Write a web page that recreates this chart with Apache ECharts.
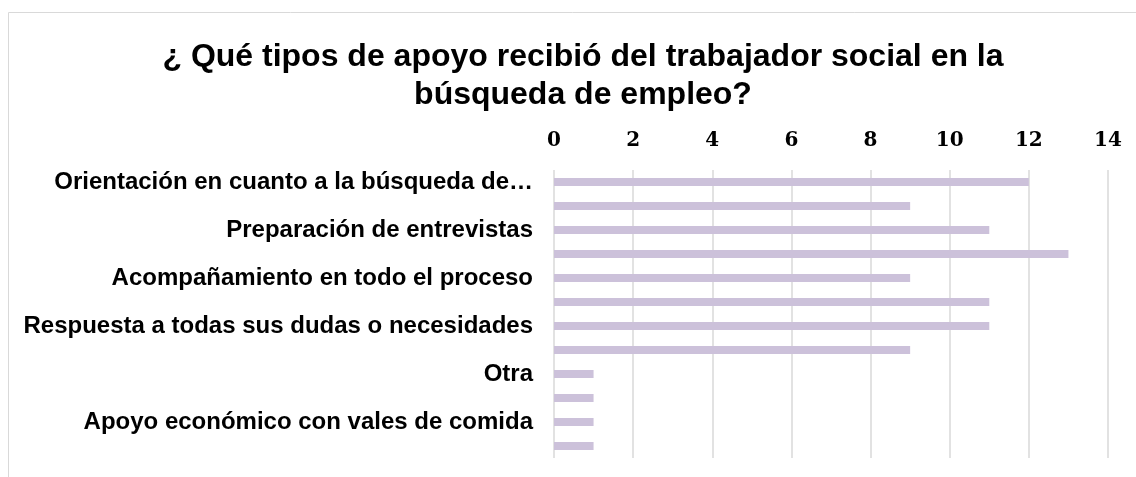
<!DOCTYPE html>
<html lang="es">
<head>
  <meta charset="UTF-8">
  <title>Apoyo del trabajador social</title>
  <script src="https://cdn.jsdelivr.net/npm/echarts@6/dist/echarts.min.js"></script>
  <style>
    html, body { margin: 0; padding: 0; background: #fff; }
  </style>
</head>
<body>
<div id="main" style="width: 1136px;height:477px;"></div>
<script type="text/javascript">
  // categorias (las vacias no tienen etiqueta visible en el original)
  var categories = [
    'Orientación en cuanto a la búsqueda de…', '',
    'Preparación de entrevistas', '',
    'Acompañamiento en todo el proceso', '',
    'Respuesta a todas sus dudas o necesidades', '',
    'Otra', '',
    'Apoyo económico con vales de comida', ''
  ];
  var values = [12, 9, 11, 13, 9, 11, 11, 9, 1, 1, 1, 1];
  var xTicks = { min: 0, max: 14, interval: 2 };

  var myChart = echarts.init(document.getElementById('main'));
  myChart.setOption({
    animation: false,
    title: {
      text: '¿ Qué tipos de apoyo recibió del trabajador social en la\nbúsqueda de empleo?',
      left: 578,
      top: 33,
      textAlign: 'center',
      textStyle: {
        fontFamily: 'Liberation Sans',
        fontWeight: 'bold',
        fontSize: 32,
        lineHeight: 38,
        color: '#000'
      }
    },
    graphic: [{
      type: 'rect',
      shape: { x: 8.5, y: 12.5, width: 1140, height: 480 },
      style: { fill: 'none', stroke: '#d9d9d9', lineWidth: 1 },
      silent: true
    }],
    grid: {
      left: 554,
      right: 28,
      top: 170,
      bottom: 19
    },
    xAxis: {
      type: 'value',
      position: 'top',
      min: xTicks.min,
      max: xTicks.max,
      interval: xTicks.interval,
      axisLine: { show: false },
      axisTick: { show: false },
      axisLabel: {
        margin: 19,
        fontFamily: 'DejaVu Serif',
        fontWeight: 'bold',
        fontSize: 20,
        color: '#000'
      },
      splitLine: { lineStyle: { color: '#d9d9d9', width: 1.5 } }
    },
    yAxis: {
      type: 'category',
      inverse: true,
      data: categories,
      axisLine: { show: false },
      axisTick: { show: false },
      axisLabel: {
        interval: 0,
        margin: 21,
        fontFamily: 'Liberation Sans',
        fontWeight: 'bold',
        fontSize: 24,
        color: '#000'
      }
    },
    series: [{
      type: 'bar',
      data: values,
      barWidth: 8,
      itemStyle: { color: '#ccc1da' }
    }]
  });
</script>
</body>
</html>
